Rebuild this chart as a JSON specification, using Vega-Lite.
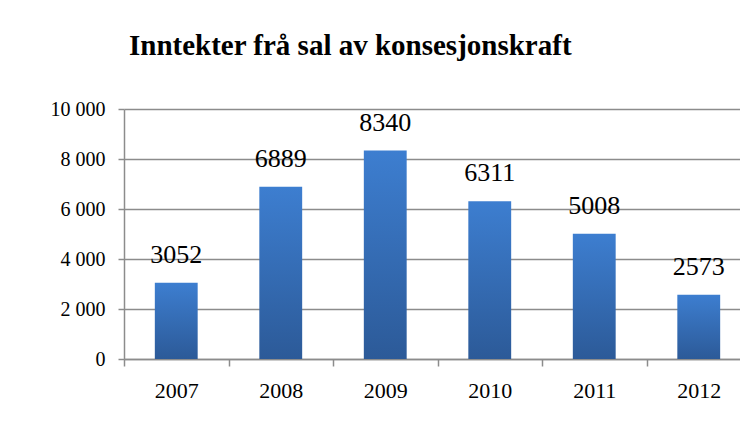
{
  "$schema": "https://vega.github.io/schema/vega-lite/v6.json",
  "autosize": {"type": "none"},
  "width": 616,
  "height": 250,
  "padding": {"left": 124, "top": 109, "right": 0, "bottom": 79},
  "background": "white",
  "title": {
    "text": "Inntekter frå sal av konsesjonskraft",
    "font": "Liberation Serif",
    "fontSize": 29,
    "fontWeight": "bold",
    "color": "#000000",
    "anchor": "start",
    "frame": "group",
    "dx": 5,
    "baseline": "alphabetic",
    "offset": 15
  },
  "data": {
    "values": [
      {"year": "2007", "value": 3052},
      {"year": "2008", "value": 6889},
      {"year": "2009", "value": 8340},
      {"year": "2010", "value": 6311},
      {"year": "2011", "value": 5008},
      {"year": "2012", "value": 2573}
    ]
  },
  "encoding": {
    "x": {
      "field": "year",
      "type": "ordinal",
      "title": null,
      "scale": {"range": [0, 627], "paddingInner": 0, "paddingOuter": 0},
      "axis": {
        "labelAngle": 0,
        "labelFont": "Liberation Serif",
        "labelFontSize": 22,
        "labelColor": "#000000",
        "labelPadding": 14,
        "tickBand": "extent",
        "tickSize": 7,
        "tickColor": "#8c8c8c",
        "tickWidth": 1.5,
        "domainColor": "#8c8c8c",
        "domainWidth": 1.5,
        "grid": false
      }
    },
    "y": {
      "field": "value",
      "type": "quantitative",
      "title": null,
      "scale": {"domain": [0, 10000], "nice": false},
      "axis": {
        "values": [0, 2000, 4000, 6000, 8000, 10000],
        "labelExpr": "replace(format(datum.value, ','), ',', ' ')",
        "labelFont": "Liberation Serif",
        "labelFontSize": 20,
        "labelColor": "#000000",
        "labelPadding": 13,
        "tickSize": 6,
        "tickColor": "#8c8c8c",
        "tickWidth": 1.5,
        "domainColor": "#8c8c8c",
        "domainWidth": 1.5,
        "grid": true,
        "gridColor": "#8c8c8c",
        "gridWidth": 1.5
      }
    }
  },
  "layer": [
    {
      "mark": {
        "type": "bar",
        "width": {"band": 0.41},
        "color": {
          "gradient": "linear",
          "x1": 0, "y1": 0, "x2": 0, "y2": 1,
          "stops": [
            {"offset": 0, "color": "#3d7ed0"},
            {"offset": 1, "color": "#2c5a98"}
          ]
        }
      }
    },
    {
      "mark": {
        "type": "text",
        "font": "Liberation Serif",
        "fontSize": 26,
        "color": "#000000",
        "baseline": "alphabetic",
        "dy": -20
      },
      "encoding": {
        "text": {"field": "value", "type": "quantitative", "format": "d"}
      }
    }
  ],
  "config": {
    "view": {"stroke": null},
    "text": {"font": "Liberation Serif"}
  }
}
